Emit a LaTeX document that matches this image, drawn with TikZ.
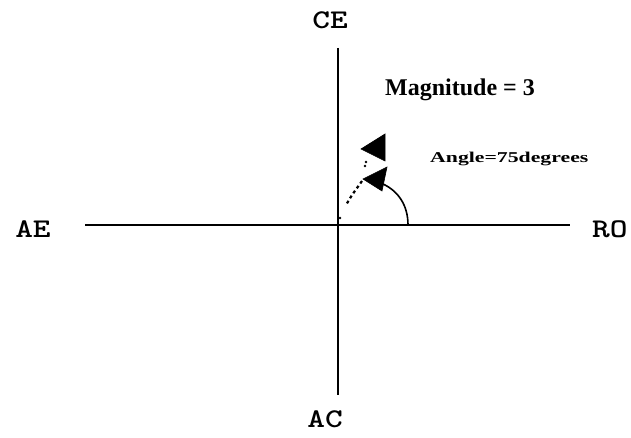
\documentclass[tikz,border=0pt]{standalone}
\usepackage{fontspec}
\setmainfont{Liberation Serif}
\usetikzlibrary{calc}
\newcommand{\axistext}[1]{\scalebox{1.25}[1]{\ttfamily\bfseries\fontsize{27}{27}\selectfont #1}}
\tikzset{
    axislabel/.style={inner sep=0pt},
    axisline/.style={line width=1.6pt},
    headshape/.style={fill=black, draw=black, line width=0.6pt}
}

\begin{document}
\begin{tikzpicture}[x=1pt, y=-1pt]
    \useasboundingbox (0,0) rectangle (631,438);
    % Axes
    \coordinate (O) at (338,225);
    \coordinate (west) at (85,225);
    \coordinate (east) at (570,225);
    \coordinate (north) at (338,48);
    \coordinate (south) at (338,395);
    \draw[axisline] (west) -- (east);
    \draw[axisline] (north) -- (south);
    \node[axislabel] (ae) at (33,229) {\axistext{AE}};
    \node[axislabel, anchor=west] (ro) at (592,229) {\axistext{RO}};
    \node[axislabel] (ce) at (330,20) {\axistext{CE}};
    \node[axislabel] (ac) at (325,419) {\axistext{AC}};

    % Heads
    \fill[headshape] (385,134) -- (361,149) -- (385,161) -- cycle;
    \fill[headshape] (363,179) -- (387,167) -- (382,191) -- cycle;
    \fill (366,162) circle (1.3pt) (365,166) circle (1.3pt);

    % Angle arc
    \draw[line width=1.6pt] (383,184) .. controls (398,191) and (408,205) .. (408,225);
    \draw[line width=2.2pt, dash pattern=on 3pt off 3pt] (362,181) -- (352,195) -- (346,205);
    \fill (340,218) circle (1.3pt);

    % Labels
    \node[font=\bfseries\fontsize{24}{24}\selectfont, anchor=west, inner sep=0pt] (mag) at (385,90) {Magnitude = 3};
    \node[anchor=west, inner sep=0pt] (ang) at (430,159) {\scalebox{1.45}[1]{\bfseries\fontsize{15}{15}\selectfont Angle=75degrees}};
\end{tikzpicture}
\end{document}
